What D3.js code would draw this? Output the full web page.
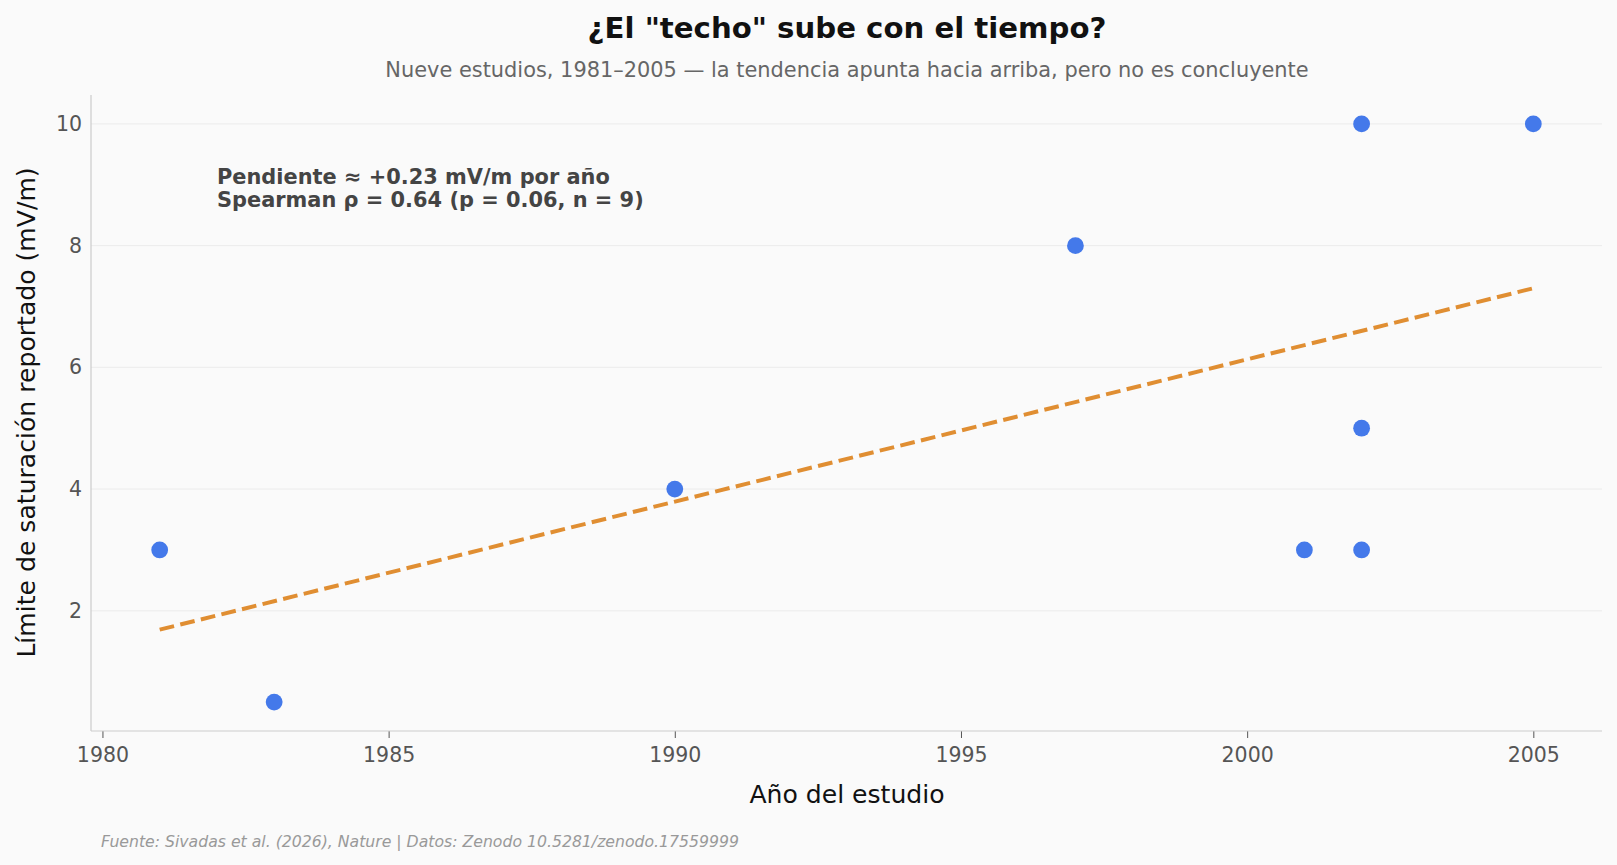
<!DOCTYPE html>
<html><head><meta charset="utf-8">
<script src="https://cdn.jsdelivr.net/npm/d3@7"></script>
<style>
html,body{margin:0;padding:0;background:#fafafa;}
svg{display:block;font-family:"DejaVu Sans",sans-serif;}
</style></head>
<body>
<script>
const years = [1981, 1983, 1990, 1997, 2001, 2002, 2002, 2002, 2005];
const limits = [3, 0.5, 4, 8, 3, 10, 5, 3, 10];
const trendYears = [1981, 2005];
const trendValues = [1.69, 7.30];
const xTicks = [1980, 1985, 1990, 1995, 2000, 2005];
const yTicks = [2, 4, 6, 8, 10];
const titleText = '¿El "techo" sube con el tiempo?';
const subtitleText = 'Nueve estudios, 1981–2005 — la tendencia apunta hacia arriba, pero no es concluyente';
const xLabel = 'Año del estudio';
const yLabel = 'Límite de saturación reportado (mV/m)';
const annotLines = ['Pendiente ≈ +0.23 mV/m por año', 'Spearman ρ = 0.64 (p = 0.06, n = 9)'];
const footer = 'Fuente: Sivadas et al. (2026), Nature | Datos: Zenodo 10.5281/zenodo.17559999';

const W = 1617, H = 865;
const m = {left: 91, right: W - 1602, top: 95, bottom: H - 731};
const svg = d3.select('body').append('svg').attr('width', W).attr('height', H);
svg.append('rect').attr('width', W).attr('height', H).attr('fill', '#fafafa');

const x = d3.scaleLinear().domain([1979.8, 2006.2]).range([m.left, W - m.right]);
const y = d3.scaleLinear().domain([0.025, 10.475]).range([H - m.bottom, m.top]);

// grid
svg.append('g').selectAll('line').data(yTicks).join('line')
  .attr('x1', m.left).attr('x2', W - m.right)
  .attr('y1', d => y(d)).attr('y2', d => y(d))
  .attr('stroke', '#ebebeb').attr('stroke-width', 1);

// axes
const gx = svg.append('g').attr('transform', `translate(0,${H - m.bottom})`)
  .call(d3.axisBottom(x).tickValues(xTicks).tickFormat(d3.format('d')).tickSize(7).tickPadding(9));
gx.select('.domain').remove();
gx.selectAll('line').attr('stroke', '#555');
gx.selectAll('text').attr('fill', '#555').attr('font-size', 20.5).attr('font-family', 'DejaVu Sans');

const gy = svg.append('g').attr('transform', `translate(${m.left},0)`)
  .call(d3.axisLeft(y).tickValues(yTicks).tickFormat(d3.format('d')).tickSize(0).tickPadding(9));
gy.select('.domain').remove();
gy.selectAll('text').attr('fill', '#555').attr('font-size', 20.5).attr('font-family', 'DejaVu Sans');

// spines
svg.append('line').attr('x1', m.left).attr('x2', m.left).attr('y1', m.top).attr('y2', H - m.bottom)
  .attr('stroke', '#cccccc').attr('stroke-width', 1.2);
svg.append('line').attr('x1', m.left).attr('x2', W - m.right).attr('y1', H - m.bottom).attr('y2', H - m.bottom)
  .attr('stroke', '#cccccc').attr('stroke-width', 1.2);

// trend line
const line = d3.line().x(d => x(d[0])).y(d => y(d[1]));
svg.append('path').datum(trendYears.map((t, i) => [t, trendValues[i]]))
  .attr('d', line).attr('fill', 'none').attr('stroke', '#e08e32')
  .attr('stroke-width', 4).attr('stroke-dasharray', '14.8,6.4');

// points
svg.append('g').selectAll('circle').data(years.map((t, i) => [t, limits[i]])).join('circle')
  .attr('cx', d => x(d[0])).attr('cy', d => y(d[1])).attr('r', 8.4)
  .attr('fill', '#4479ea');

// annotation
svg.append('g').selectAll('text').data(annotLines).join('text')
  .attr('x', 217).attr('y', (d, i) => 183.5 + i * 23.5)
  .attr('font-size', 20.9).attr('font-weight', 'bold').attr('fill', '#444')
  .text(d => d);

// titles
svg.append('text').attr('x', 847).attr('y', 38).attr('text-anchor', 'middle')
  .attr('font-size', 29.2).attr('font-weight', 'bold').attr('fill', '#111').text(titleText);
svg.append('text').attr('x', 847).attr('y', 76.5).attr('text-anchor', 'middle')
  .attr('font-size', 20.9).attr('fill', '#666').text(subtitleText);
svg.append('text').attr('x', 847).attr('y', 803).attr('text-anchor', 'middle')
  .attr('font-size', 25.1).attr('fill', '#111').text(xLabel);
svg.append('text').attr('transform', 'translate(35,412.5) rotate(-90)').attr('text-anchor', 'middle')
  .attr('font-size', 25.1).attr('fill', '#111').text(yLabel);
svg.append('text').attr('x', 101).attr('y', 846.5)
  .attr('font-size', 15.7).attr('font-style', 'italic').attr('fill', '#999').text(footer);
</script>
</body></html>
